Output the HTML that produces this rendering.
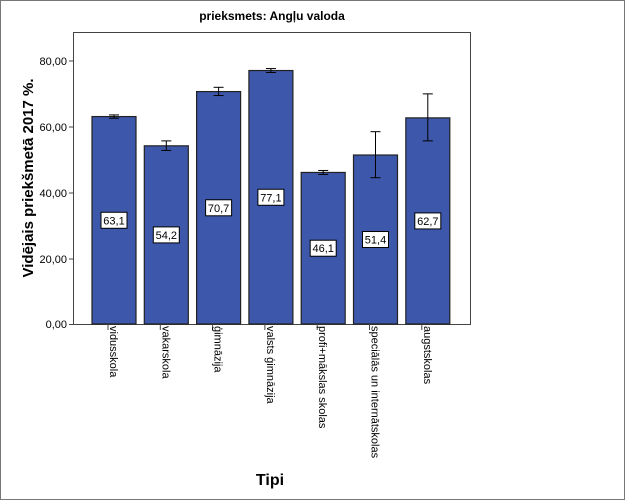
<!DOCTYPE html>
<html><head><meta charset="utf-8"><style>
body{margin:0;background:#fff}
svg{display:block;font-family:"Liberation Sans",sans-serif}
</style></head><body>
<svg width="625" height="500" viewBox="0 0 625 500">
<rect x="0.5" y="0.5" width="624" height="499" fill="#fff" stroke="#777"/>
<text x="272" y="20" font-size="12" font-weight="bold" text-anchor="middle">prieksmets: Angļu valoda</text>
<rect x="73.5" y="32.5" width="397" height="292" fill="#fff" stroke="#444"/>
<g font-size="11" text-anchor="end" stroke="none">
<text x="67" y="65">80,00</text><text x="67" y="131">60,00</text><text x="67" y="197">40,00</text><text x="67" y="263">20,00</text><text x="67" y="328">0,00</text>
</g>
<g stroke="#444"><line x1="69" x2="73" y1="61" y2="61"/><line x1="69" x2="73" y1="127" y2="127"/><line x1="69" x2="73" y1="193" y2="193"/><line x1="69" x2="73" y1="259" y2="259"/><line x1="69" x2="73" y1="324.5" y2="324.5"/></g>
<text transform="translate(33,178) rotate(-90)" font-size="15" font-weight="bold" text-anchor="middle">Vidējais priekšmetā 2017 %.</text>
<text x="270" y="485" font-size="16" font-weight="bold" text-anchor="middle">Tipi</text>
<g id="bars"></g>
</svg>
<script>
const d=[["vidusskola",63.1,62.6,63.6,"63,1"],["vakarskola",54.2,52.8,55.7,"54,2"],["ģimnāzija",70.7,69.5,72,"70,7"],["valsts ģimnāzija",77.1,76.5,77.7,"77,1"],["profi+mākslas skolas",46.1,45.5,46.7,"46,1"],["speciālās un internātskolas",51.4,44.5,58.5,"51,4"],["augstskolas",62.7,55.7,70,"62,7"]];
const Y=v=>324-v*3.2875;let s="";
d.forEach((r,i)=>{const c=114+i*52.3;const y=Y(r[1]);
s+=`<rect x="${c-22}" y="${y}" width="44" height="${324-y}" fill="#3d57aa" stroke="#222" stroke-width="1.2"/>`;
s+=`<g stroke="#000"><line x1="${c}" x2="${c}" y1="${Y(r[3])}" y2="${Y(r[2])}"/><line x1="${c-5}" x2="${c+5}" y1="${Y(r[3])}" y2="${Y(r[3])}"/><line x1="${c-5}" x2="${c+5}" y1="${Y(r[2])}" y2="${Y(r[2])}"/></g>`;
const my=(324+y)/2;
s+=`<rect x="${c-13}" y="${my-8}" width="26" height="16" fill="#fff" stroke="#000"/><text x="${c}" y="${my+4}" font-size="11" text-anchor="middle">${r[4]}</text>`;
const tx=c-6;
s+=`<line x1="${tx}" x2="${tx}" y1="324" y2="330" stroke="#444"/><text transform="translate(${tx+2},326) rotate(90)" font-size="11">${r[0]}</text>`;
});
document.getElementById("bars").innerHTML=s;
</script>
</body></html>
